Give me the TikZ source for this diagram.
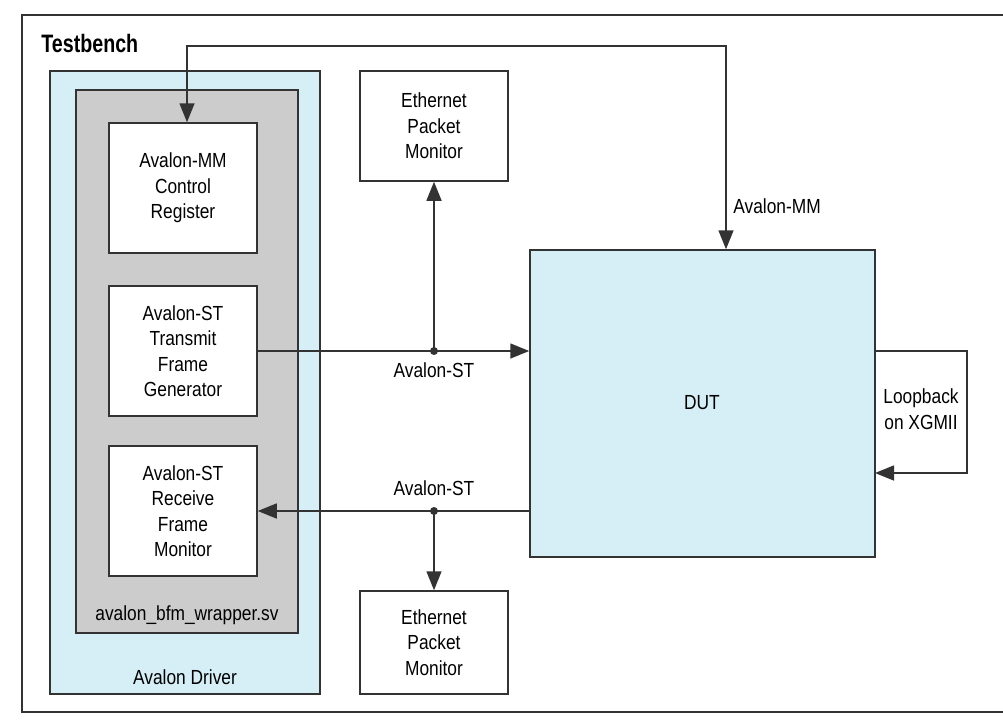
\documentclass[tikz,border=0pt]{standalone}
\usepackage{fontspec}
\setmainfont{Liberation Sans}[FakeStretch=0.85]
\newfontfamily\tbfont{Liberation Sans}[FakeStretch=0.78]
\usetikzlibrary{arrows.meta,calc}
\definecolor{lineC}{HTML}{333333}
\definecolor{lblue}{HTML}{D6EEF5}
\definecolor{lgray}{HTML}{CCCCCC}
\tikzset{
  base/.style={draw=lineC, line width=0.75pt, inner sep=0pt, align=center,
    font=\fontsize{10.2pt}{12.75pt}\selectfont},
  whitebox/.style={base, fill=white, minimum width=74pt},
  lbl/.style={inner sep=0pt, font=\fontsize{10.2pt}{12.75pt}\selectfont, align=center},
  conn/.style={draw=lineC, line width=0.75pt},
  tip/.style={-{Triangle[length=9.5pt,width=7.5pt]}},
  dot/.style={circle, fill=lineC, inner sep=0pt, minimum size=4pt}
}
\begin{document}
\begin{tikzpicture}[x=0.5pt,y=-0.5pt]
\useasboundingbox (0,0) rectangle (1003,723);
% outer frame (open on the right)
\draw[lineC, line width=1pt] (1003,15) -- (22,15) -- (22,712) -- (1003,712);
\node[anchor=west, inner sep=0pt, font=\tbfont\bfseries\fontsize{12.6pt}{14pt}\selectfont] (tb) at (41,43) {Testbench};

% driver and wrapper
\node[base, fill=lblue, minimum width=135pt, minimum height=311.5pt] (drv) at (185,382.5) {};
\node[base, fill=lgray, minimum width=111pt, minimum height=271.5pt] (wrap) at (187,361.5) {};
\node[lbl] (wraplbl) at (187,615) {avalon\_bfm\_wrapper.sv};
\node[lbl] (drvlbl) at (185,677) {Avalon Driver};

% inner boxes
\node[whitebox, minimum height=65pt] (ctrl) at (183,188) {Avalon-MM\\Control\\Register};
\node[whitebox, minimum height=65pt] (tx) at (183,351) {Avalon-ST\\Transmit\\Frame\\Generator};
\node[whitebox, minimum height=65pt] (rx) at (183,511) {Avalon-ST\\Receive\\Frame\\Monitor};

% monitors
\node[whitebox, minimum height=55pt] (mon1) at (434,126) {Ethernet\\Packet\\Monitor};
\node[whitebox, minimum height=51.5pt] (mon2) at (434,642.5) {Ethernet\\Packet\\Monitor};

% DUT
\node[base, fill=lblue, minimum width=172.5pt, minimum height=153.5pt] (dut) at (702.5,403.5) {};
\node[lbl] (dutlbl) at (702,403) {DUT};

% Avalon-MM connection
\coordinate (mmL) at (187,46);
\coordinate (mmR) at (726,46);
\draw[conn, {Triangle[length=9.5pt,width=7.5pt]}-{Triangle[length=9.5pt,width=7.5pt]}]
  (mmL |- ctrl.north) -- (mmL) -- (mmR) -- (mmR |- dut.north);
\node[lbl, anchor=west] (mmlbl) at (733,206) {Avalon-MM};

% Transmit path
\node[dot] (j1) at (434,351) {};
\draw[conn, tip] (tx.east) -- (tx.east -| dut.west);
\draw[conn, tip] (j1.center) -- (mon1.south);
\node[lbl] (stlbl1) at (434,370) {Avalon-ST};

% Receive path
\node[dot] (j2) at (434,511) {};
\draw[conn, tip] (rx.east -| dut.west) -- (rx.east);
\draw[conn, tip] (j2.center) -- (mon2.north);
\node[lbl] (stlbl2) at (434,488) {Avalon-ST};

% Loopback
\coordinate (lbR) at (967,351);
\coordinate (lbIn) at (875,473);
\draw[conn, tip] (dut.east |- lbR) -- (lbR) |- (lbIn);
\node[lbl] (lblbl) at (921,409) {Loopback\\on XGMII};
\end{tikzpicture}
\end{document}
